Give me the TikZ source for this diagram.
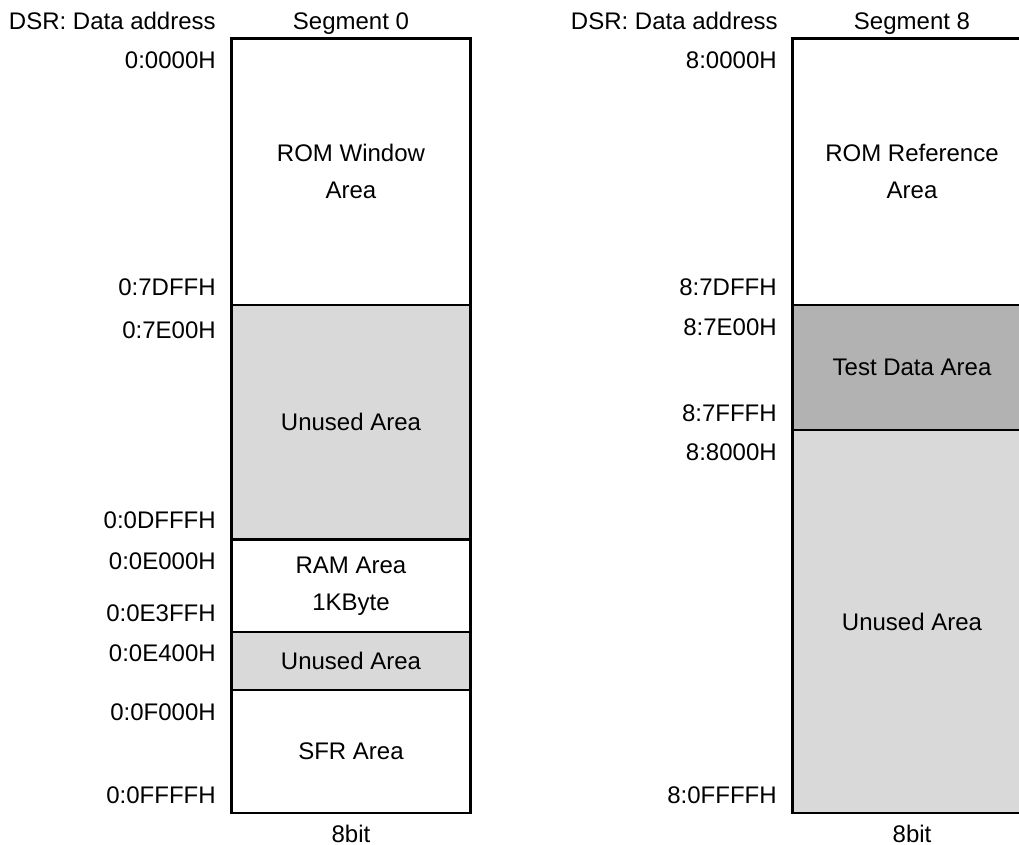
\documentclass[tikz,border=0pt]{standalone}
\usepackage{fontspec}
\setmainfont{Liberation Sans}
\begin{document}
\begin{tikzpicture}[x=0.5pt,y=-0.5pt,line width=1.3pt]
	\tikzstyle{area}=[draw,rectangle,fill=white,
	minimum width=119.25pt,
	inner sep=0pt,align=center,font=\fontsize{12}{18.5}\selectfont
	]
	\tikzstyle{free}=[area, fill=black!15];
	\tikzstyle{test}=[area, fill=black!30];
	\tikzstyle{addr}=[anchor=east,inner sep=0pt,font=\fontsize{12}{14}\selectfont];
	\tikzstyle{head}=[inner sep=0pt,font=\fontsize{12}{14}\selectfont];

\clip (0,0) rectangle (1019,845);

% segment 0
\node[head,anchor=base east](dsr0) at (217,29.3){DSR: Data address};
\node[head,anchor=base](seg0) at (351,29.3){Segment 0};
\node[area,minimum height=133.25pt](rom0) at (351,171.75){ROM Window\\Area};
\node[free,minimum height=117.25pt](unused0) at (351,422.25){Unused Area};
\node[area,minimum height=46.25pt](ram0) at (351,585.75){RAM Area\\1KByte};
\node[free,minimum height=29pt](gap0) at (351,661){Unused Area};
\node[area,minimum height=61.5pt](sfr0) at (351,751.5){SFR Area};
\node[head](bit0) at (351,834){8bit};

\node[addr](a01) at (217,60){0:0000H};
\node[addr](a02) at (217,287){0:7DFFH};
\node[addr](a03) at (217,330){0:7E00H};
\node[addr](a04) at (217,520){0:0DFFFH};
\node[addr](a05) at (217,561){0:0E000H};
\node[addr](a06) at (217,613){0:0E3FFH};
\node[addr](a07) at (217,653){0:0E400H};
\node[addr](a08) at (217,712){0:0F000H};
\node[addr](a09) at (217,795){0:0FFFFH};

% segment 8
\node[head,anchor=base east](dsr8) at (779,29.3){DSR: Data address};
\node[head,anchor=base](seg8) at (912,29.3){Segment 8};
\node[area,minimum height=133.25pt](rom8) at (912,171.75){ROM Reference\\Area};
\node[test,minimum height=62.5pt](test8) at (912,367.5){Test Data Area};
\node[free,minimum height=191.5pt](unused8) at (912,621.5){Unused Area};
\node[head](bit8) at (912,834){8bit};

\node[addr](a81) at (778,60){8:0000H};
\node[addr](a82) at (778,287){8:7DFFH};
\node[addr](a83) at (778,327){8:7E00H};
\node[addr](a84) at (778,413){8:7FFFH};
\node[addr](a85) at (778,452){8:8000H};
\node[addr](a86) at (778,795){8:0FFFFH};

\end{tikzpicture}
\end{document}
